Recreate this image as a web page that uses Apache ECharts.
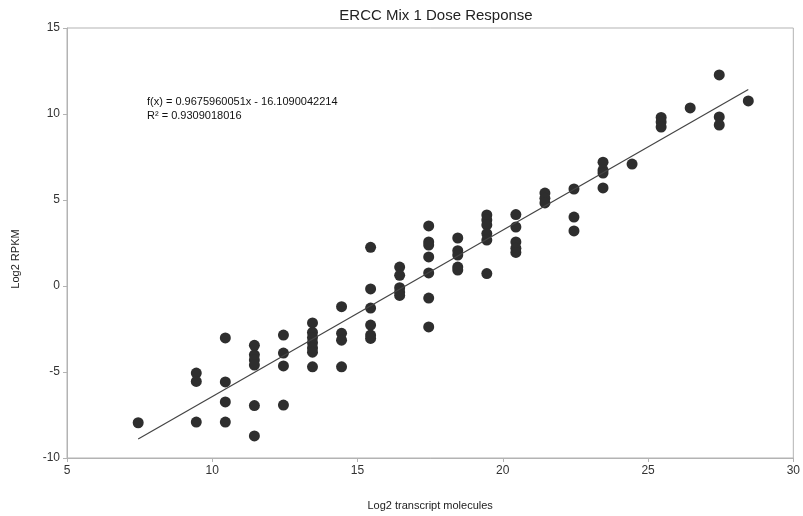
<!DOCTYPE html>
<html>
<head>
<meta charset="utf-8">
<script src="https://cdn.jsdelivr.net/npm/echarts@6/dist/echarts.min.js"></script>
<style>
  html, body { margin: 0; padding: 0; background: #fff; }
  #chart { width: 803px; height: 516px; }
</style>
</head>
<body>
<div id="chart"></div>
<script>
// x positions (log2 transcript molecules) and the log2 RPKM values read at each
const xLevels = [7.45, 9.45, 10.45, 11.45, 12.45, 13.45, 14.45, 15.45, 16.45, 17.45,
                 18.45, 19.45, 20.45, 21.45, 22.45, 23.45, 24.45, 25.45, 26.45, 27.45, 28.45];
const yValues = [
    [-7.95],
    [-5.06, -5.55, -7.91],
    [-3.02, -5.58, -6.74, -7.91],
    [-3.45, -4.0, -4.3, -4.6, -6.95, -8.72],
    [-2.85, -3.9, -4.65, -6.92],
    [-2.15, -2.7, -3.0, -3.3, -3.6, -3.85, -4.7],
    [-1.2, -2.75, -3.15, -4.7],
    [2.25, -0.17, -1.28, -2.27, -2.85, -3.05],
    [1.1, 0.62, -0.1, -0.35, -0.55],
    [3.49, 2.56, 2.38, 1.69, 0.76, -0.7, -2.38],
    [2.79, 2.05, 1.8, 1.1, 0.93],
    [4.13, 3.84, 3.55, 3.05, 2.67, 0.72],
    [4.15, 3.43, 2.56, 2.2, 1.95],
    [5.4, 5.1, 4.83],
    [5.64, 4.01, 3.2],
    [7.2, 6.74, 6.57, 5.7],
    [7.09],
    [9.8, 9.53, 9.24],
    [10.35],
    [12.27, 9.83, 9.36],
    [10.76]
];
const slope = 0.9675960051;
const intercept = -16.1090042214;
const rSquared = 0.9309018016;

const points = [];
xLevels.forEach((x, i) => {
    yValues[i].forEach((y) => points.push([x, y]));
});
const xMin = Math.min(...xLevels);
const xMax = Math.max(...xLevels);
const trend = [[xMin, slope * xMin + intercept], [xMax, slope * xMax + intercept]];

const font = "'Liberation Sans', Arial, sans-serif";
const chart = echarts.init(document.getElementById("chart"));

chart.setOption({
    animation: false,
    title: {
        text: "ERCC Mix 1 Dose Response",
        left: 431,
        textAlign: "center",
        top: 3,
        textStyle: { fontFamily: font, fontSize: 15, fontWeight: "normal", color: "#222" }
    },
    grid: {
        left: 67, right: 8, top: 28, bottom: 56,
        show: true, borderColor: "#b3b3b3", borderWidth: 1
    },
    xAxis: {
        type: "value", min: 5, max: 30, interval: 5,
        name: "Log2 transcript molecules",
        nameLocation: "middle", nameGap: 42,
        nameTextStyle: { fontFamily: font, fontSize: 11, color: "#222" },
        axisLine: { onZero: false, lineStyle: { color: "#b3b3b3" } },
        axisTick: { show: true, length: 4, lineStyle: { color: "#b3b3b3" } },
        axisLabel: { fontFamily: font, fontSize: 12, color: "#333", margin: 7 },
        splitLine: { show: false }
    },
    yAxis: {
        type: "value", min: -10, max: 15, interval: 5,
        name: "Log2 RPKM",
        nameLocation: "middle", nameGap: 46,
        nameTextStyle: { fontFamily: font, fontSize: 11, color: "#222", padding: [0, 32, 0, 0] },
        axisLine: { show: true, onZero: false, lineStyle: { color: "#b3b3b3" } },
        axisTick: { show: true, length: 4, lineStyle: { color: "#b3b3b3" } },
        axisLabel: { fontFamily: font, fontSize: 12, color: "#333", margin: 7 },
        splitLine: { show: false }
    },
    graphic: [
        {
            type: "text", left: 147, top: 95,
            style: {
                text: "f(x) = " + slope + "x - " + Math.abs(intercept) + "\nR\u00b2 = " + rSquared,
                font: "11px " + font, fill: "#111", lineHeight: 14
            }
        }
    ],
    series: [
        {
            type: "scatter",
            data: points,
            symbolSize: 11,
            itemStyle: { color: "#2e2e2e", opacity: 1 },
            z: 3
        },
        {
            type: "line",
            data: trend,
            symbol: "none",
            lineStyle: { color: "#444", width: 1.2 },
            z: 4
        }
    ]
});
</script>
</body>
</html>
